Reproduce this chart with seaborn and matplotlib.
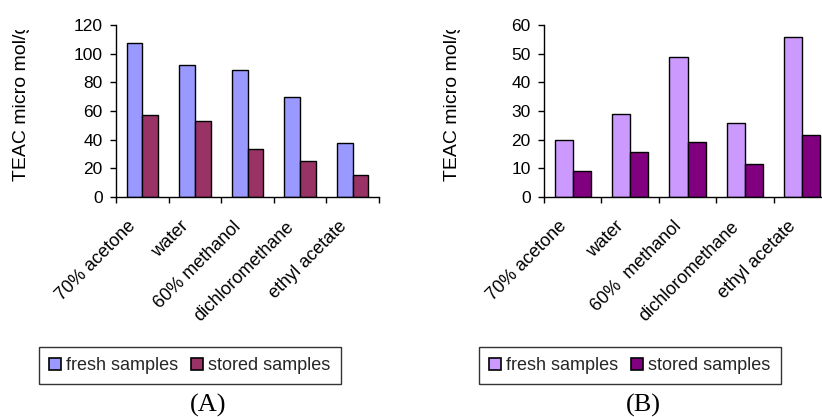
import matplotlib
matplotlib.use("Agg")
import matplotlib.pyplot as plt
import seaborn as sns
import pandas as pd
from matplotlib.transforms import Bbox, ScaledTranslation, blended_transform_factory
from matplotlib.patches import Patch
from matplotlib.ticker import FixedLocator

solvents_a = ["70% acetone", "water", "60% methanol", "dichloromethane", "ethyl acetate"]
solvents_b = ["70% acetone", "water", "60%  methanol", "dichloromethane", "ethyl acetate"]
fresh_a = [107.5, 92, 88.5, 70, 38]
stored_a = [57, 53, 33.5, 25, 15.5]
fresh_b = [19.8, 28.8, 49, 25.8, 55.8]
stored_b = [9, 15.6, 19.1, 11.4, 21.5]
series = ["fresh samples", "stored samples"]
colors_a = ["#9999FF", "#993366"]
colors_b = ["#CC99FF", "#800080"]
yticks_a = [0, 20, 40, 60, 80, 100, 120]
yticks_b = [0, 10, 20, 30, 40, 50, 60]

sns.set_theme(style="white")
plt.rcParams["font.family"] = ["Liberation Sans", "DejaVu Sans"]

W, H = 822, 417
fig = plt.figure(figsize=(W / 100, H / 100), dpi=100)

def px(l, t, r, b):
    return [l / W, 1 - b / H, (r - l) / W, (b - t) / H]

def make_df(cats, f, s):
    return pd.DataFrame({
        "solvent": cats * 2,
        "value": f + s,
        "series": [series[0]] * len(cats) + [series[1]] * len(cats),
    })

def panel(rect, cats, f, s, colors, yticks, width, label_x, legend_box, letter, letter_x):
    ax = fig.add_axes(rect)
    df = make_df(cats, f, s)
    sns.barplot(data=df, x="solvent", y="value", hue="series", palette=colors,
                width=width, edgecolor="black", linewidth=1.0, ax=ax,
                legend=False, saturation=1)
    ax.set_xlim(-0.5, len(cats) - 0.5)
    ax.set_ylim(yticks[0], yticks[-1])
    ax.set_yticks(yticks)
    ax.set_yticklabels([str(v) for v in yticks], fontsize=12.5, color="black")
    # category labels, rotated, placed below each category
    ax.set_xticks(range(len(cats)))
    ax.set_xticklabels([])
    tr = blended_transform_factory(ax.transData, ax.transAxes) + \
        ScaledTranslation(-15 / 100, -21 / 100, fig.dpi_scale_trans)
    for i, c in enumerate(cats):
        ax.text(i, 0, c, transform=tr, rotation=45, ha="right", va="top",
                rotation_mode="anchor", fontsize=13, color="black", clip_on=False)
    ax.xaxis.set_minor_locator(FixedLocator([i - 0.5 for i in range(len(cats) + 1)]))
    ax.tick_params(axis="x", which="major", length=0)
    ax.tick_params(axis="x", which="minor", length=4.5, width=1, color="black", direction="out", bottom=True)
    ax.tick_params(axis="y", which="major", length=4.5, width=1, color="black", direction="out", left=True, pad=5)
    ax.set_xlabel("")
    ax.set_ylabel("")
    for sp in ["top", "right"]:
        ax.spines[sp].set_visible(False)
    for sp in ["left", "bottom"]:
        ax.spines[sp].set_color("black")
        ax.spines[sp].set_linewidth(1.0)
    ax.set_facecolor("white")

    t = fig.text(label_x / W, 1 - 181 / H, "TEAC micro mol/g", rotation=90,
                 ha="center", va="bottom", fontsize=14, color="black")
    t.set_clip_box(Bbox.from_extents(0, 0, W, H - 30))
    t.set_clip_on(True)

    handles = [Patch(facecolor=colors[i], edgecolor="black", linewidth=1.2, label=series[i])
               for i in range(2)]
    l, tp, r, b = legend_box
    leg = fig.legend(handles=handles, loc="center", ncol=2,
                     bbox_to_anchor=((l + r) / 2 / W, 1 - (tp + b) / 2 / H),
                     frameon=True, fancybox=False, fontsize=13,
                     handlelength=0.65, handleheight=0.65, handletextpad=0.3,
                     columnspacing=0.7, borderpad=0.55, edgecolor="black",
                     borderaxespad=0)
    leg.get_frame().set_linewidth(1.0)

    fig.text(letter_x / W, 1 - 405 / H, letter, ha="center", va="center",
             fontsize=19, family="Liberation Serif", color="black")
    return ax

panel(px(116, 25, 379, 197), solvents_a, fresh_a, stored_a, colors_a, yticks_a, 0.6,
      21, (39, 347, 341, 384), "(A)", 208)
panel(px(544, 25, 831, 197), solvents_b, fresh_b, stored_b, colors_b, yticks_b, 0.63,
      452, (479, 347, 781, 384), "(B)", 643)

fig.savefig("out.png", dpi=100, facecolor="white")
